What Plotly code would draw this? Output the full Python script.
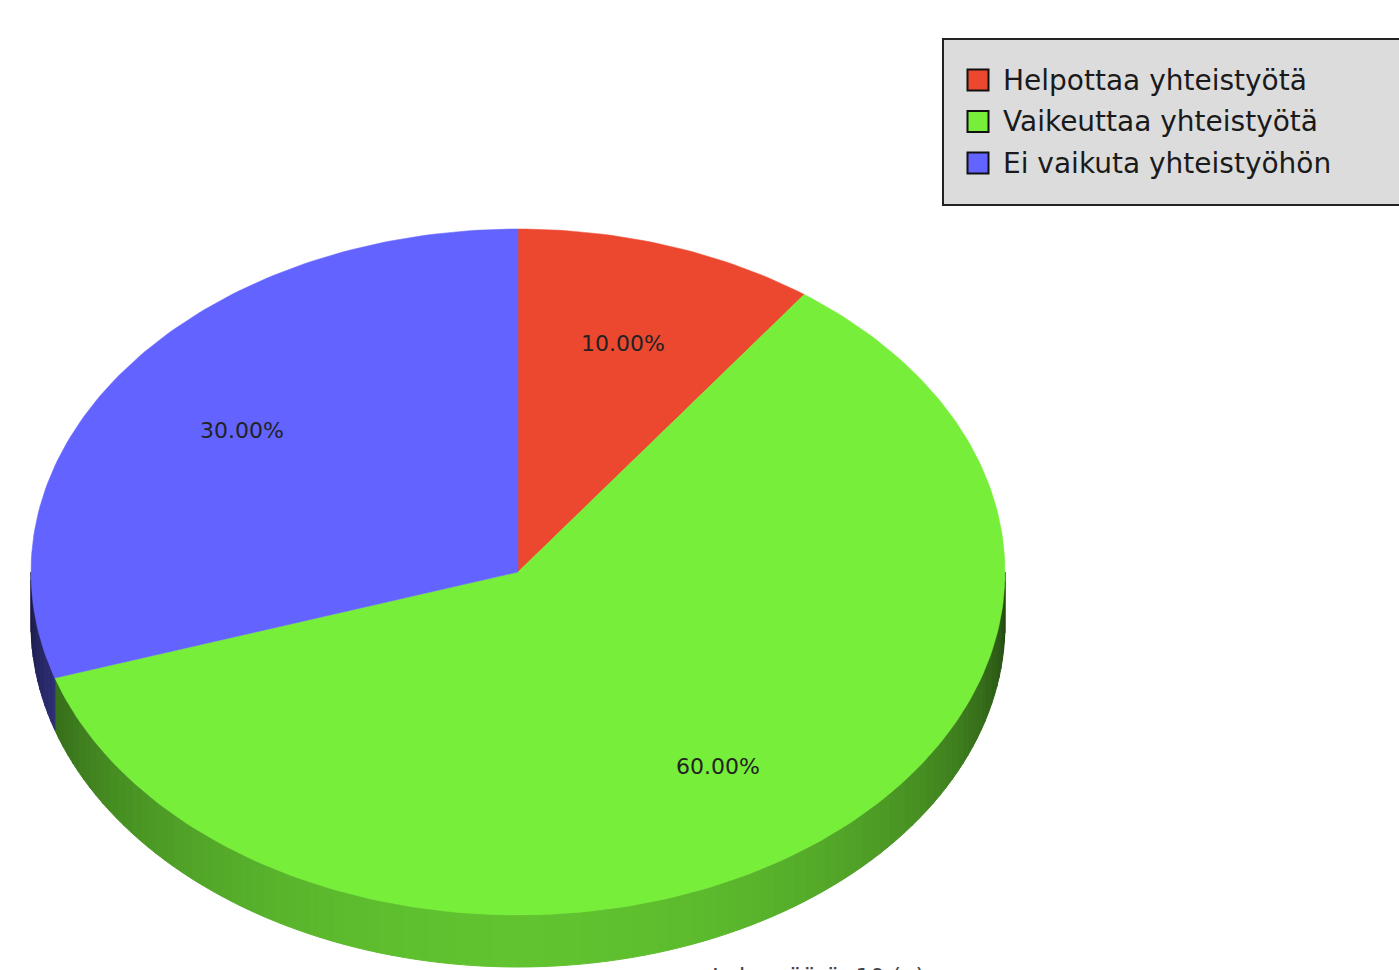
import numpy as np
import plotly.graph_objects as go

# ---- data ----
labels = ["Helpottaa yhteistyötä", "Vaikeuttaa yhteistyötä", "Ei vaikuta yhteistyöhön"]
values = [10, 60, 30]
colors = ["#EC4830", "#76EE3A", "#6363FF"]
footer = "Lukumäärä: 10 (n)"

# ---- geometry (pixel space) ----
W, H = 1399, 970
cx, cy = 518, 572
rx, ry = 487, 343
depth = 52

# legend box layout
leg_x0, leg_y0, leg_x1, leg_y1 = 943, 39, 1420, 205
leg_first_y, leg_step = 80, 41.5
sw_x, txt_x = 978, 1001


def hex2rgb(h):
    h = h.lstrip("#")
    return tuple(int(h[i:i + 2], 16) for i in (0, 2, 4))


def pt(a_deg, dy=0.0):
    a = np.radians(a_deg)
    return cx + rx * np.sin(a), cy - ry * np.cos(a) + dy


total = float(sum(values))
bounds = np.concatenate([[0], np.cumsum(values) / total * 360.0])

fig = go.Figure()

# side walls (front half only)
for i, (v, c) in enumerate(zip(values, colors)):
    a0, a1 = bounds[i], bounds[i + 1]
    s0, s1 = max(a0, 90.0), min(a1, 270.0)
    if s1 <= s0:
        continue
    n = max(2, int(np.ceil((s1 - s0) / 1.5)))
    edges = np.linspace(s0, s1, n + 1)
    r, g, b = hex2rgb(c)
    for k in range(n):
        e0, e1 = edges[k], edges[k + 1]
        am = 0.5 * (e0 + e1)
        f = 0.27 + 0.55 * np.sin(np.radians(am - 90.0)) ** 0.9
        col = f"rgb({int(r * f)},{int(g * f)},{int(b * f)})"
        ang = np.linspace(e0, e1, 4)
        xt, yt = pt(ang)
        xb, yb = pt(ang[::-1], depth)
        xs = np.concatenate([xt, xb, xt[:1]])
        ys = np.concatenate([yt, yb, yt[:1]])
        fig.add_trace(go.Scatter(x=xs, y=ys, mode="lines", fill="toself",
                                 fillcolor=col, line=dict(color=col, width=1),
                                 hoverinfo="skip", showlegend=False))

# top faces
for i, (lab, v, c) in enumerate(zip(labels, values, colors)):
    a0, a1 = bounds[i], bounds[i + 1]
    ang = np.linspace(a0, a1, max(3, int(a1 - a0) + 1))
    xa, ya = pt(ang)
    xs = np.concatenate([[cx], xa, [cx]])
    ys = np.concatenate([[cy], ya, [cy]])
    fig.add_trace(go.Scatter(x=xs, y=ys, mode="lines", fill="toself",
                             fillcolor=c, line=dict(color=c, width=0.5),
                             name=lab, hoverinfo="name", showlegend=False))

# legend box
fig.add_shape(type="rect", x0=leg_x0, y0=leg_y0, x1=leg_x1, y1=leg_y1,
              xref="x", yref="y", fillcolor="#DCDCDC",
              line=dict(color="#222", width=2), layer="below")
leg_ys = [leg_first_y + k * leg_step for k in range(len(labels))]
fig.add_trace(go.Scatter(x=[sw_x] * len(labels), y=leg_ys, mode="markers",
                         marker=dict(symbol="square", size=21, color=colors,
                                     line=dict(color="#111", width=2)),
                         hovertext=labels, hoverinfo="text", showlegend=False))
for lab, ly in zip(labels, leg_ys):
    fig.add_annotation(x=txt_x, y=ly, text=lab, showarrow=False,
                       font=dict(family="DejaVu Sans", size=28, color="#1a1a1a"),
                       xanchor="left", yanchor="middle")

# percentage labels
for i, v in enumerate(values):
    am = 0.5 * (bounds[i] + bounds[i + 1])
    a = np.radians(am)
    lx = cx + 0.70 * rx * np.sin(a)
    ly = cy - 0.70 * ry * np.cos(a)
    fig.add_annotation(x=lx, y=ly, text=f"{v / total * 100:.2f}%", showarrow=False,
                       font=dict(family="DejaVu Sans", size=22, color="#222"),
                       xanchor="center", yanchor="middle")

fig.add_annotation(x=818, y=962, text=footer, showarrow=False,
                   font=dict(family="DejaVu Sans", size=23, color="#444"),
                   xanchor="center", yanchor="top")

fig.update_layout(
    width=W, height=H,
    margin=dict(l=0, r=0, t=0, b=0),
    paper_bgcolor="white", plot_bgcolor="white",
    xaxis=dict(range=[0, W], visible=False, fixedrange=True),
    yaxis=dict(range=[H, 0], visible=False, fixedrange=True),
    showlegend=False,
)

fig.write_html("out.html", config={"displayModeBar": False},
               post_script="document.body.style.margin='0';document.body.style.overflow='hidden';")
